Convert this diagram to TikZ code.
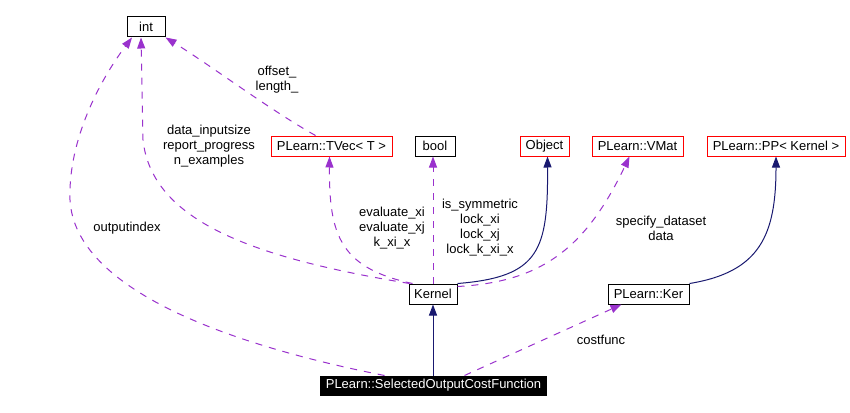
\documentclass[tikz,border=0pt]{standalone}
\usepackage{fontspec}
\setmainfont{Liberation Sans}
\usetikzlibrary{arrows.meta}
\definecolor{dep}{HTML}{9A32CD}
\definecolor{inh}{HTML}{191970}
\tikzset{
  box/.style={draw=black, line width=1pt, inner sep=0pt, minimum height=20pt, font=\fontsize{13}{15}\selectfont},
  redbox/.style={box, draw=red},
  blackbox/.style={box, fill=black, text=white, minimum height=19pt},
  uses/.style={draw=dep, line width=1pt, dash pattern=on 7pt off 7pt, -{Triangle[length=11pt,width=8pt,fill=dep]}},
  isa/.style={draw=inh, line width=1pt, -{Triangle[length=11pt,width=8pt,fill=inh]}},
  lbl/.style={align=center, inner sep=0pt, font=\fontsize{13}{15}\selectfont}
}
\begin{document}
\begin{tikzpicture}[x=1pt,y=-1pt]
\useasboundingbox (0,0) rectangle (850,412);
\fill[white] (0,0) rectangle (850,412);
% nodes
\node[box, minimum width=38pt] (int) at (146,27) {int};
\node[redbox, minimum width=121pt] (tvec) at (331.5,146) {PLearn::TVec< T >};
\node[box, minimum width=40pt] (bool) at (435,146) {bool};
\node[redbox, minimum width=49pt] (object) at (544.5,146) {Object};
\node[redbox, minimum width=91pt] (vmat) at (637.5,146) {PLearn::VMat};
\node[redbox, minimum width=138pt] (pp) at (776,146) {PLearn::PP< Kernel >};
\node[box, minimum width=48pt] (kernel) at (433,294) {Kernel};
\node[box, minimum width=81pt] (ker) at (648.5,294) {PLearn::Ker};
\node[blackbox, minimum width=226pt] (soc) at (433.5,385.5) {PLearn::SelectedOutputCostFunction};
% connectors
\draw[uses] ([xshift=-49pt]soc.north) .. controls (230,345) and (75,290) .. (70,200)
  .. controls (68,140) and (100,80) .. ([xshift=-14pt]int.south);
\draw[uses] ([xshift=1pt]kernel.north west) .. controls (255,258) and (152,222) .. (143,140)
  -- ([xshift=-5pt]int.south);
\draw[uses] ([xshift=-16pt]tvec.north) .. controls (270,110) and (210,65) .. (int.south east);
\draw[uses] ([xshift=4pt]kernel.north west) .. controls (340,268) and (329,235) .. ([xshift=-2pt]tvec.south);
\draw[uses] (kernel.north) -- (kernel.north |- bool.south);
\draw[isa] (kernel.north east) .. controls (540,277) and (548,250) .. ([xshift=3pt]object.south);
\draw[uses] ([yshift=-3pt]kernel.north east) .. controls (540,282) and (585,250) .. ([xshift=-8pt]vmat.south);
\draw[isa] (ker.north east) .. controls (760,272) and (776,235) .. (pp.south);
\draw[uses] ([xshift=31pt]soc.north) -- ([xshift=-27pt]ker.south);
\draw[isa] (soc.north -| kernel.south) -- (kernel.south);
% labels
\node[lbl] (l1) at (277,80) {offset\_\\length\_};
\node[lbl] (l2) at (209,146) {data\_inputsize\\report\_progress\\n\_examples};
\node[lbl] (l3) at (127,228) {outputindex};
\node[lbl] (l4) at (392,228) {evaluate\_xi\\evaluate\_xj\\k\_xi\_x};
\node[lbl] (l5) at (480,228) {is\_symmetric\\lock\_xi\\lock\_xj\\lock\_k\_xi\_x};
\node[lbl] (l6) at (661,228) {specify\_dataset\\data};
\node[lbl] (l7) at (601,340) {costfunc};
\end{tikzpicture}
\end{document}
